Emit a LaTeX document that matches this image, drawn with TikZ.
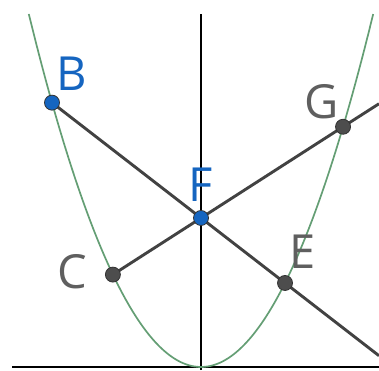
\documentclass[tikz,border=0pt]{standalone}
\usepackage{fontspec}
\setmainfont{Open Sans}
\usepackage{tikz}
\usetikzlibrary{positioning,backgrounds}
\definecolor{ptblue}{HTML}{1565C0}
\definecolor{ptgray}{HTML}{4D4D4D}
\definecolor{labgray}{HTML}{5F5F5F}
\definecolor{segline}{HTML}{424242}
\definecolor{curve}{HTML}{649E74}
\tikzset{
  pt/.style={circle, draw=black!80, line width=0.8pt, inner sep=0pt, minimum size=15pt},
  lab/.style={inner sep=0pt, font=\fontsize{47}{47}\selectfont},
  seg/.style={segline, line width=2.9pt},
  axis/.style={black, line width=1.2pt}
}

\begin{document}
\begin{tikzpicture}[x=84pt, y=84pt]
  \useasboundingbox (-2.393,-0.036) rectangle (2.119,4.369);
  % points
  \node[pt, fill=ptblue] (F) at (0,1.774) {};
  \node[pt, fill=ptblue] (B) at (-1.774,3.147) {};
  \node[pt, fill=ptgray] (E) at (1,1) {};
  \node[pt, fill=ptgray] (C) at (-1.049,1.100) {};
  \node[pt, fill=ptgray] (G) at (1.691,2.860) {};
  \coordinate (endBE) at (2.119,0.134);
  \coordinate (endCG) at (2.119,3.134);
  \begin{scope}[on background layer]
    % axes
    \draw[axis] (-2.25,0) -- (2.119,0);
    \draw[axis] (0,-0.036) -- (0,4.202);
    % parabola
    \draw[curve, line width=1.7pt, smooth, samples=80, domain=-2.05:2.05] plot (\x,{\x*\x});
    % chords
    \draw[seg] (B.center) -- (E.center) -- (endBE);
    \draw[seg] (C.center) -- (G.center) -- (endCG);
  \end{scope}
  % labels
  \node[lab, text=ptblue] (labB) at (-1.536,3.488) {B};
  \node[lab, text=ptblue] (labF) at (-0.01,2.167) {F};
  \node[lab, text=labgray] (labC) at (-1.530,1.131) {C};
  \node[lab, text=labgray] (labE) at (1.214,1.369) {E};
  \node[lab, text=labgray] (labG) at (1.440,3.161) {G};
\end{tikzpicture}
\end{document}
